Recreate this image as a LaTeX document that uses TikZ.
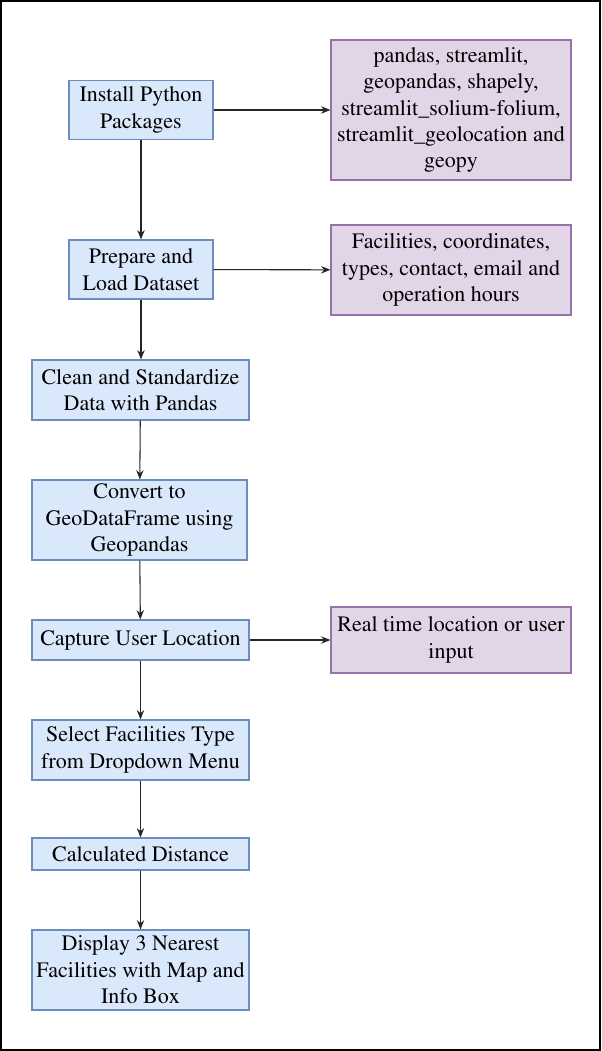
\documentclass[tikz,border=0pt]{standalone}
\usepackage[T1]{fontenc}
\renewcommand{\rmdefault}{ptm}
\usepackage{tikz}
\usetikzlibrary{arrows.meta,positioning}
\definecolor{stepfill}{HTML}{DAE8FC}
\definecolor{stepline}{HTML}{6C8EBF}
\definecolor{infofill}{HTML}{E1D5E7}
\definecolor{infoline}{HTML}{9673A6}

\begin{document}
\begin{tikzpicture}
[x=0.75pt,y=-0.75pt,
 stepbox/.style={draw=stepline,fill=stepfill,line width=0.8pt,inner sep=0pt,align=center,
  font=\fontsize{16.5}{19.8}\selectfont,minimum width=162.75pt},
 infobox/.style={draw=infoline,fill=infofill,line width=0.8pt,inner sep=0pt,align=center,
  font=\fontsize{16.5}{19.8}\selectfont,minimum width=180pt},
 link/.style={draw=black!85,line width=0.8pt,-{Stealth[length=7pt,width=5.5pt]}}]
\useasboundingbox (0,0) rectangle (601,1051);
\draw [line width=1.5pt] (1,1) rectangle (600,1050);

\node[stepbox,minimum width=108pt,minimum height=44.25pt] (pkg) at (141,110) {Install Python\\Packages};
\node[infobox,minimum height=105pt] (pkglist) at (451,110) {pandas, streamlit,\\geopandas, shapely,\\streamlit\_solium-folium,\\streamlit\_geolocation and\\geopy};
\node[stepbox,minimum width=108pt,minimum height=44.25pt] (data) at (141,269.5) {Prepare and\\Load Dataset};
\node[infobox,minimum height=67.5pt] (datalist) at (451,270) {Facilities, coordinates,\\types, contact, email and\\operation hours};
\node[stepbox,minimum height=45pt] (clean) at (140.5,390) {Clean and Standardize\\Data with Pandas};
\node[stepbox,minimum width=161.25pt,minimum height=60pt] (geo) at (139.5,520) {Convert to\\GeoDataFrame using\\Geopandas};
\node[stepbox,minimum height=30pt] (loc) at (140.5,640) {Capture User Location};
\node[infobox,minimum height=49.5pt] (locsrc) at (451,640) {Real time location or user\\input};
\node[stepbox,minimum height=45pt] (type) at (140.5,750) {Select Facilities Type\\from Dropdown Menu};
\node[stepbox,minimum height=24pt] (dist) at (140.5,854) {Calculated Distance};
\node[stepbox,minimum height=60pt] (show) at (140.5,970) {Display 3 Nearest\\Facilities with Map and\\Info Box};

\draw [link] (pkg) -- (pkglist);
\draw [link] (data) -- (datalist);
\draw [link] (loc) -- (locsrc);
\draw [link] (pkg) -- (data);
\draw [link] (data.south) -- (data.south |- clean.north);
\draw [link] (clean) -- (geo);
\draw [link] (geo) -- (loc);
\draw [link] (loc) -- (type);
\draw [link] (type) -- (dist);
\draw [link] (dist) -- (show);
\end{tikzpicture}
\end{document}
